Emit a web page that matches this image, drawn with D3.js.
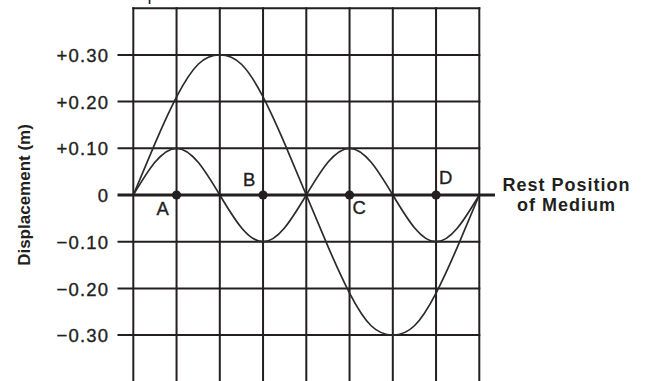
<!DOCTYPE html>
<html>
<head>
<meta charset="utf-8">
<script src="https://cdn.jsdelivr.net/npm/d3@7"></script>
<style>
  html, body { margin: 0; padding: 0; background: #fff; }
  svg { display: block; }
  text { font-family: "Liberation Sans", Arial, Helvetica, sans-serif; fill: #231f20; }
</style>
</head>
<body>
<svg id="chart" width="646" height="381"></svg>
<script>
// ---- data ----
const positions = [0, 0.5, 1, 1.5, 2, 2.5, 3, 3.5, 4, 4.5, 5, 5.5, 6, 6.5, 7, 7.5, 8];
const bigWave   = [0, 0.11, 0.21, 0.28, 0.30, 0.28, 0.21, 0.11, 0, -0.11, -0.21, -0.28, -0.30, -0.28, -0.21, -0.11, 0];
const smallWave = [0, 0.07, 0.10, 0.07, 0, -0.07, -0.10, -0.07, 0, 0.07, 0.10, 0.07, 0, -0.07, -0.10, -0.07, 0];
const gridColumns = [0, 1, 2, 3, 4, 5, 6, 7, 8];
const tickValues = [0.30, 0.20, 0.10, 0, -0.10, -0.20, -0.30];
const tickLabels = ["+0.30", "+0.20", "+0.10", "0", "\u22120.10", "\u22120.20", "\u22120.30"];
const gridRows = [0.40, 0.30, 0.20, 0.10, -0.10, -0.20, -0.30];
const pointLabels = ["A", "B", "C", "D"];
const pointPositions = [1, 3, 5, 7];
const yTitle = "Displacement (m)";
const restLabel = ["Rest Position", "of Medium"];

// ---- layout ----
const W = 646, H = 381;
const x = d3.scaleLinear().domain([0, 8]).range([133.3, 479.3]);
const y = d3.scaleLinear().domain([-0.4, 0.4]).range([381.8, 8.2]);
const ink = "#231f20";

const svg = d3.select("#chart");

// cut-off text fragment at top (title above the visible area)
svg.append("text").attr("x", 147.5).attr("y", -0.5).attr("font-size", 18).text("p");

// vertical grid lines
svg.append("g").selectAll("line").data(gridColumns).join("line")
  .attr("x1", d => x(d)).attr("x2", d => x(d))
  .attr("y1", y(0.4) - 1).attr("y2", H)
  .attr("stroke", ink).attr("stroke-width", 2);

// horizontal grid lines
svg.append("g").selectAll("line").data(gridRows).join("line")
  .attr("x1", d => d === 0.40 ? x(0) - 1 : 117.5)
  .attr("x2", x(8) + 1)
  .attr("y1", d => y(d)).attr("y2", d => y(d))
  .attr("stroke", ink).attr("stroke-width", 2);

// y axis tick labels (left side)
const yAxis = d3.axisLeft(y).tickValues(tickValues)
  .tickFormat((d, i) => tickLabels[i]).tickSize(0).tickPadding(0);
const gAxis = svg.append("g").attr("transform", "translate(109.2,0)").call(yAxis);
gAxis.select(".domain").remove();
gAxis.selectAll("text")
  .attr("font-size", 18.5)
  .attr("letter-spacing", 1.2)
  .attr("dy", "0.36em")
  .attr("stroke", ink).attr("stroke-width", 0.35)
  .style("font-family", "\"Liberation Sans\", Arial, sans-serif")
  .attr("fill", ink);

// waves
const line = d3.line().x((d, i) => x(positions[i])).y(d => y(d)).curve(d3.curveNatural);
svg.append("path").attr("d", line(bigWave))
  .attr("fill", "none").attr("stroke", "#2b2b2b").attr("stroke-width", 1.7);
svg.append("path").attr("d", line(smallWave))
  .attr("fill", "none").attr("stroke", "#2b2b2b").attr("stroke-width", 1.7);

// rest position line
svg.append("line")
  .attr("x1", 117.5).attr("x2", 495)
  .attr("y1", y(0)).attr("y2", y(0))
  .attr("stroke", ink).attr("stroke-width", 3);

// points
svg.append("g").selectAll("circle").data(pointPositions).join("circle")
  .attr("cx", d => x(d)).attr("cy", y(0)).attr("r", 4.6).attr("fill", ink);

// point labels
const labelOffsets = [
  { dx: -20, dy: 20 },
  { dx: -20, dy: -9.5 },
  { dx: 3, dy: 18.5 },
  { dx: 3, dy: -11.5 }
];
svg.append("g").selectAll("text").data(pointLabels).join("text")
  .attr("x", (d, i) => x(pointPositions[i]) + labelOffsets[i].dx)
  .attr("y", (d, i) => y(0) + labelOffsets[i].dy)
  .attr("font-size", 18.5)
  .attr("stroke", ink).attr("stroke-width", 0.35)
  .text(d => d);

// rest position label
svg.append("g").selectAll("text").data(restLabel).join("text")
  .attr("x", 566.5).attr("y", (d, i) => 191 + i * 20)
  .attr("text-anchor", "middle")
  .attr("font-size", 18).attr("font-weight", "bold").attr("letter-spacing", 1.0)
  .text(d => d);

// y axis title
svg.append("text").attr("transform", "translate(30,195) rotate(-90)")
  .attr("text-anchor", "middle").attr("font-size", 17).attr("font-weight", "bold")
  .text(yTitle);
</script>
</body>
</html>
